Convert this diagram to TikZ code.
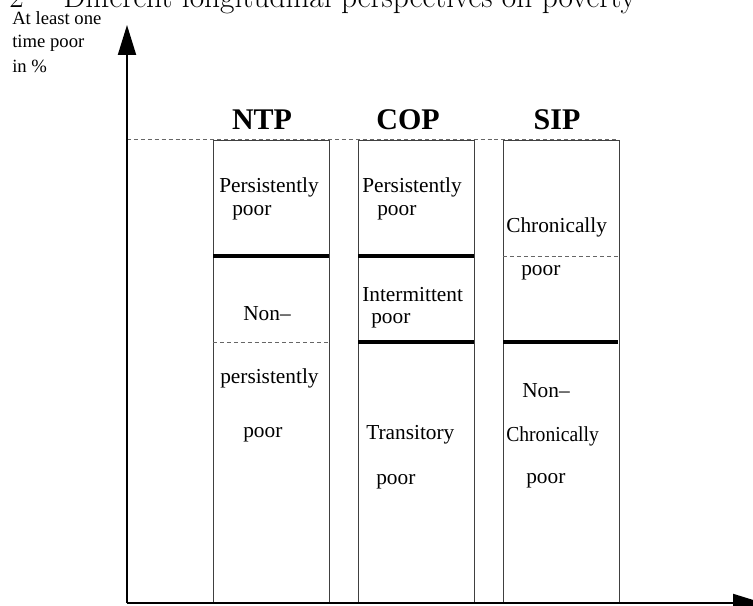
\documentclass[tikz,border=0pt]{standalone}
\usepackage{fontspec}
\newfontfamily\tms{Liberation Serif}
\usetikzlibrary{arrows.meta}
\tikzset{
  axis/.style={line width=1.5pt,-{Triangle[length=22.5pt,width=13.5pt]}},
  colbox/.style={draw=black!75,line width=0.75pt,anchor=north west,inner sep=0pt,minimum width=87pt,minimum height=347.25pt},
  thick sep/.style={line width=2.4pt},
  dash sep/.style={draw=black!60,line width=0.75pt,dash pattern=on 3pt off 2.2pt},
  lbl/.style={anchor=base west,inner sep=0pt,font=\tms\fontsize{16}{19}\selectfont},
  axlbl/.style={anchor=base west,inner sep=0pt,font=\tms\fontsize{14}{17}\selectfont},
  head/.style={anchor=base,inner sep=0pt,font=\tms\bfseries\fontsize{22.5}{26}\selectfont},
  ttl/.style={anchor=base west,inner sep=0pt,font=\fontsize{23.5}{28}\selectfont}
}
\begin{document}
\begin{tikzpicture}[x=0.75pt,y=-0.75pt]
\path[use as bounding box] (0,0) rectangle (753,606);
\clip (0,0) rectangle (753,606);
% title (clipped at the top edge, as in the reference)
\node[ttl] (tnum) at (9,8) {2};
\node[ttl] (title) at (63,8) {Different longitudinal perspectives on poverty};
% axis label
\node[axlbl] (yl1) at (12,25) {At least one};
\node[axlbl] (yl2) at (12,48) {time poor};
\node[axlbl] (yl3) at (12,73) {in \%};
% axes
\coordinate (o) at (127,603);
\coordinate (ytip) at (127,25);
\coordinate (xtip) at (763,603);
% top dashed line
\coordinate (d0) at (127,140);
\coordinate (d1) at (618,140);
\draw[dash sep] (d0) -- (d1);
% boxes
\node[colbox] (ntp) at (213,140) {};
\node[colbox] (cop) at (358,140) {};
\node[colbox] (sip) at (503,140) {};
% separators
\coordinate (n1l) at (213,256); \coordinate (n1r) at (329,256);
\coordinate (n2l) at (213,342); \coordinate (n2r) at (329,342);
\coordinate (c1l) at (358,256); \coordinate (c1r) at (474,256);
\coordinate (c2l) at (358,342); \coordinate (c2r) at (474,342);
\coordinate (s1l) at (503,256); \coordinate (s1r) at (618,256);
\coordinate (s2l) at (503,342); \coordinate (s2r) at (618,342);
\draw[thick sep] (n1l) -- (n1r);
\draw[dash sep] (n2l) -- (n2r);
\draw[thick sep] (c1l) -- (c1r);
\draw[thick sep] (c2l) -- (c2r);
\draw[dash sep] (s1l) -- (s1r);
\draw[thick sep] (s2l) -- (s2r);
\draw[axis] (o) -- (ytip);
\draw[axis] (o) -- (xtip);
% headings
\node[head] (hntp) at (262,130) {NTP};
\node[head] (hcop) at (408,130) {COP};
\node[head] (hsip) at (557,130) {SIP};
% NTP texts
\node[lbl] (a1) at (219,192) {Persistently};
\node[lbl] (a2) at (232,215) {poor};
\node[lbl] (a3) at (243,320) {Non–};
\node[lbl] (a4) at (220,383) {persistently};
\node[lbl] (a5) at (243,437) {poor};
% COP texts
\node[lbl] (b1) at (362,192) {Persistently};
\node[lbl] (b2) at (377,215) {poor};
\node[lbl] (b3) at (362,301) {Intermittent};
\node[lbl] (b4) at (371,323) {poor};
\node[lbl] (b5) at (366,439) {Transitory};
\node[lbl] (b6) at (376,484) {poor};
% SIP texts
\node[lbl] (c1) at (506,233) {Chronically};
\node[lbl] (c2) at (521,275) {poor};
\node[lbl] (c3) at (522,397) {Non–};
\node[lbl] (c4) at (506,441) {\scalebox{0.92}[1]{Chronically}};
\node[lbl] (c5) at (526,483) {poor};
\end{tikzpicture}
\end{document}
